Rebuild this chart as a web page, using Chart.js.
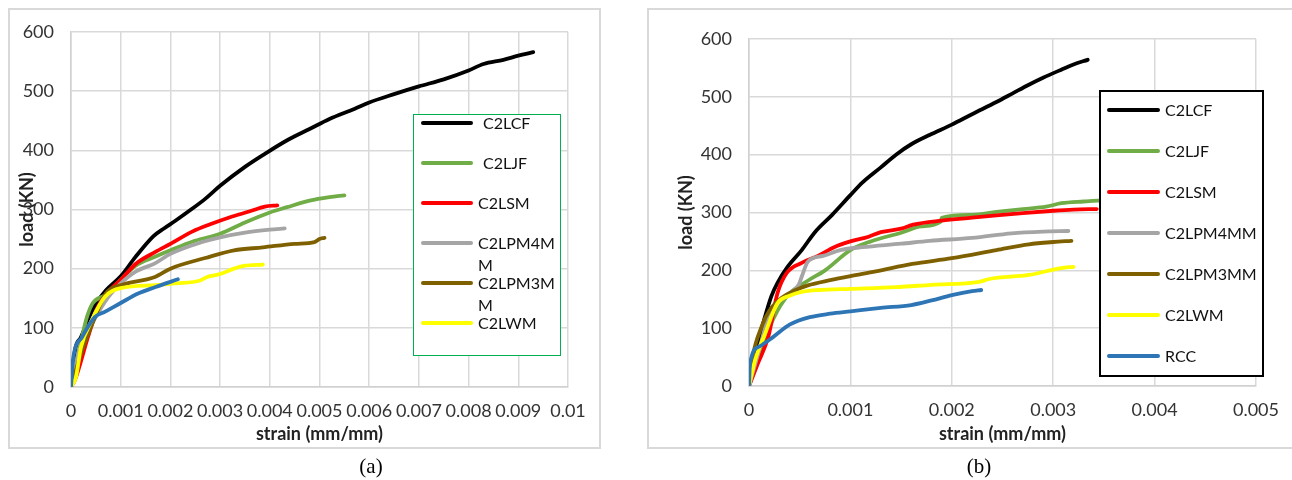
<!DOCTYPE html>
<html>
<head>
<meta charset="utf-8">
<script src="https://cdn.jsdelivr.net/npm/chart.js@4.4.1/dist/chart.umd.min.js"></script>
<style>
  body { margin: 0; background: #fff; width: 1292px; height: 480px; overflow: hidden; position: relative; font-family: Lato, sans-serif; }
  canvas { position: absolute; top: 0; }
  .frame { position: absolute; border: 2px solid #d9d9d9; box-sizing: border-box; }
  .legend { position: absolute; box-sizing: border-box; background: #fff; }
  .item { position: absolute; left: 0; right: 0; height: 0; }
  .swatch { position: absolute; height: 4px; margin-top: -2px; border-radius: 2px; }
  .txt { position: absolute; font-size: 16px; line-height: 22px; margin-top: -11px; color: #111; word-break: break-all; }
  .cap { position: absolute; top: 454px; font-family: "Liberation Serif", serif; font-size: 21px; transform: translateX(-50%); }
</style>
</head>
<body>
<div class="frame" style="left:8px;top:8px;width:593px;height:441px"></div>
<div class="frame" style="left:647px;top:8px;width:660px;height:441px"></div>
<canvas id="chartA" width="646" height="480" style="left:0"></canvas>
<canvas id="chartB" width="646" height="480" style="left:646px"></canvas>
<div class="cap" style="left:371px">(a)</div>
<div class="cap" style="left:979px">(b)</div>
<script>
// series names and colours
const names = ["C2LCF", "C2LJF", "C2LSM", "C2LPM4MM", "C2LPM3MM", "C2LWM", "RCC"];
const colors = ["#000000", "#70ad47", "#ff0000", "#a5a5a5", "#7f6000", "#ffff00", "#2e75b6"];

// tick labels
const yTicks = [0, 100, 200, 300, 400, 500, 600];
const xTicksA = [0, 0.001, 0.002, 0.003, 0.004, 0.005, 0.006, 0.007, 0.008, 0.009, 0.01];
const xTicksB = [0, 0.001, 0.002, 0.003, 0.004, 0.005];

// (a)  [strain, load]
const a_C2LCF = [[0,0],[0.00008,62],[0.0002,84],[0.00046,135],[0.0007,163],[0.001,187],[0.00129,219],[0.00166,255],[0.00187,268],[0.0021,281],[0.00245,302],[0.0027,318],[0.003,340],[0.0035,372],[0.0039,394],[0.00435,417],[0.0048,436],[0.0052,453],[0.0057,470],[0.006,481],[0.0065,495],[0.007,508],[0.0075,520],[0.008,535],[0.0083,546],[0.0087,553],[0.009,560],[0.0093,566]];
const a_C2LJF = [[0,0],[0.0001,40],[0.00022,84],[0.00032,118],[0.00044,142],[0.00068,155],[0.001,181],[0.0013,205],[0.00169,220],[0.002,231],[0.00245,246],[0.0028,254],[0.003,259],[0.0035,278],[0.004,295],[0.00435,304],[0.0048,315],[0.0052,321],[0.0055,324]];
const a_C2LSM = [[0,0],[0.00008,12],[0.00034,84],[0.00054,135],[0.00078,164],[0.001,181],[0.0013,208],[0.00169,228],[0.002,242],[0.00245,263],[0.0028,275],[0.0032,287],[0.0036,297],[0.0039,305],[0.00415,307]];
const a_C2LPM4MM = [[0,0],[0.0001,40],[0.0002,70],[0.00046,113],[0.00075,152],[0.001,175],[0.0013,195],[0.00169,209],[0.002,225],[0.00264,245],[0.003,253],[0.0035,261],[0.004,266],[0.0043,268]];
const a_C2LPM3MM = [[0,0],[0.0002,56],[0.00046,113],[0.0007,158],[0.001,172],[0.00169,186],[0.002,200],[0.0027,218],[0.00328,231],[0.00386,236],[0.0045,242],[0.0049,245],[0.005,250],[0.0051,252]];
const a_C2LWM = [[0,0],[0.0001,17],[0.0002,67],[0.00042,113],[0.00068,152],[0.001,167],[0.0017,172],[0.0021,175],[0.0026,180],[0.00274,186],[0.003,191],[0.00328,200],[0.0035,205],[0.00386,207]];
const a_RCC = [[0,0],[0.00004,46],[0.00022,84],[0.00048,118],[0.00068,127],[0.001,142],[0.00135,158],[0.0017,169],[0.00215,182]];

// (b)  [strain, load]
const b_C2LCF = [[0,0],[0.00006,55],[0.00015,115],[0.00022,155],[0.00028,178],[0.00038,206],[0.00052,235],[0.00065,266],[0.00082,296],[0.001,330],[0.00112,352],[0.0013,378],[0.00145,400],[0.0016,418],[0.00178,434],[0.002,452],[0.0022,470],[0.00244,491],[0.0026,506],[0.00276,521],[0.0029,533],[0.00308,547],[0.0032,556],[0.00334,564]];
const b_C2LJF = [[0,0],[0.0001,50],[0.0002,100],[0.00028,130],[0.0004,160],[0.00058,182],[0.00075,200],[0.001,235],[0.0012,250],[0.0015,265],[0.0017,276],[0.00189,284],[0.0019,291],[0.0022,296],[0.00244,301],[0.0027,306],[0.00293,310],[0.00308,316],[0.0033,319],[0.0035,321]];
const b_C2LSM = [[0,0],[0.00009,40],[0.00019,85],[0.00028,160],[0.00037,195],[0.00052,213],[0.00068,225],[0.00084,240],[0.001,250],[0.00118,258],[0.0013,266],[0.0015,272],[0.00162,279],[0.0019,286],[0.0022,291],[0.00244,295],[0.0027,299],[0.003,303],[0.0032,305],[0.00343,306]];
const b_C2LPM4MM = [[0,0],[0.0001,62],[0.0002,125],[0.00036,155],[0.00049,175],[0.00052,189],[0.00058,215],[0.00073,225],[0.0009,235],[0.00112,240],[0.0015,246],[0.00178,251],[0.0022,256],[0.00259,264],[0.0029,267],[0.00315,268]];
const b_C2LPM3MM = [[0,0],[0.00003,45],[0.00013,105],[0.0002,130],[0.00032,152],[0.00045,165],[0.00058,174],[0.0008,183],[0.001,190],[0.00125,198],[0.00161,211],[0.002,221],[0.00244,235],[0.00276,245],[0.003,249],[0.00318,251]];
const b_C2LWM = [[0,0],[0.00006,45],[0.00016,91],[0.00028,143],[0.0004,156],[0.00053,163],[0.00069,166],[0.001,168],[0.00145,171],[0.0018,175],[0.00227,180],[0.00237,185],[0.00276,192],[0.00308,204],[0.0032,206]];
const b_RCC = [[0,0],[0.00001,39],[0.0001,68],[0.00024,85],[0.0004,106],[0.0006,119],[0.0008,125],[0.001,129],[0.0013,135],[0.0016,140],[0.0018,148],[0.002,157],[0.0022,164],[0.00229,166]];

const seriesA = [a_C2LCF, a_C2LJF, a_C2LSM, a_C2LPM4MM, a_C2LPM3MM, a_C2LWM, a_RCC];
const seriesB = [b_C2LCF, b_C2LJF, b_C2LSM, b_C2LPM4MM, b_C2LPM3MM, b_C2LWM, b_RCC];

const tickFont = { family: "Lato", size: 18 };
const titleFont = { family: "Lato", size: 18, weight: "bold" };

function makeDatasets(series) {
    return series.map((pts, i) => ({
        label: names[i],
        data: pts.map(p => ({ x: p[0], y: p[1] })),
        borderColor: colors[i],
        backgroundColor: colors[i],
        borderWidth: 3.8,
        pointRadius: 0,
        cubicInterpolationMode: "monotone",
        borderCapStyle: "round",
        borderJoinStyle: "round",
        order: series.length - i,
    }));
}

function makeChart(id, series, xTicks, xMax, pad, yWidth, xHeight) {
    return new Chart(document.getElementById(id), {
        type: "line",
        data: { datasets: makeDatasets(series) },
        options: {
            responsive: false,
            animation: false,
            layout: { padding: pad },
            plugins: { legend: { display: false }, tooltip: { enabled: false } },
            scales: {
                x: {
                    type: "linear",
                    min: 0,
                    max: xMax,
                    afterBuildTicks: s => { s.ticks = xTicks.map(v => ({ value: v })); },
                    afterFit: s => { s.height = xHeight; },
                    ticks: { font: tickFont, color: "#333", padding: 13, maxRotation: 0, autoSkip: false, callback: v => String(v) },
                    grid: { color: "#d9d9d9", lineWidth: 1.5, drawTicks: false },
                    border: { color: "#d0d0d0", width: 1.5 },
                    title: { display: true, text: "strain (mm/mm)", font: titleFont, color: "#222", padding: 4 },
                },
                y: {
                    min: 0,
                    max: 600,
                    afterBuildTicks: s => { s.ticks = yTicks.map(v => ({ value: v })); },
                    afterFit: s => { s.width = yWidth; },
                    ticks: { font: tickFont, color: "#333", padding: 17 },
                    grid: { color: "#d9d9d9", lineWidth: 1.5, drawTicks: false },
                    border: { color: "#d0d0d0", width: 1.5 },
                    title: { display: true, text: "load (KN)", font: titleFont, color: "#222", padding: 4 },
                },
            },
        },
    });
}

const chartA = makeChart("chartA", seriesA, xTicksA, 0.01, { left: 12, top: 32, right: 78, bottom: 31 }, 59, 62);
const chartB = makeChart("chartB", seriesB, xTicksB, 0.005, { left: 25, top: 39, right: 34, bottom: 31 }, 78, 63);

// legends drawn as html boxes over the plot
function makeLegend(chart, count, box, opt) {
    const lg = document.createElement("div");
    lg.className = "legend";
    Object.assign(lg.style, box);
    chart.data.datasets.slice(0, count).forEach((ds, i) => {
        const it = document.createElement("div");
        it.className = "item";
        it.style.top = (opt.first + i * opt.step) + "px";
        const sw = document.createElement("div");
        sw.className = "swatch";
        sw.style.left = opt.lineLeft + "px";
        sw.style.width = opt.lineWidth + "px";
        sw.style.background = ds.borderColor;
        const tx = document.createElement("div");
        tx.className = "txt";
        tx.style.left = (opt.textLeft + (opt.shift[i] || 0)) + "px";
        tx.style.width = opt.textWidth + "px";
        tx.textContent = ds.label;
        it.appendChild(sw);
        it.appendChild(tx);
        lg.appendChild(it);
    });
    document.body.appendChild(lg);
}

makeLegend(chartA, 6,
    { left: "413px", top: "114px", width: "148px", height: "242px", border: "1.5px solid #00b050" },
    { first: 8, step: 40, lineLeft: 7, lineWidth: 52, textLeft: 64, textWidth: 80, shift: [5, 5] });
makeLegend(chartB, 7,
    { left: "1099px", top: "90px", width: "165px", height: "287px", border: "2px solid #000" },
    { first: 18, step: 41, lineLeft: 6, lineWidth: 53, textLeft: 64, textWidth: 100, shift: [] });
</script>
</body>
</html>
